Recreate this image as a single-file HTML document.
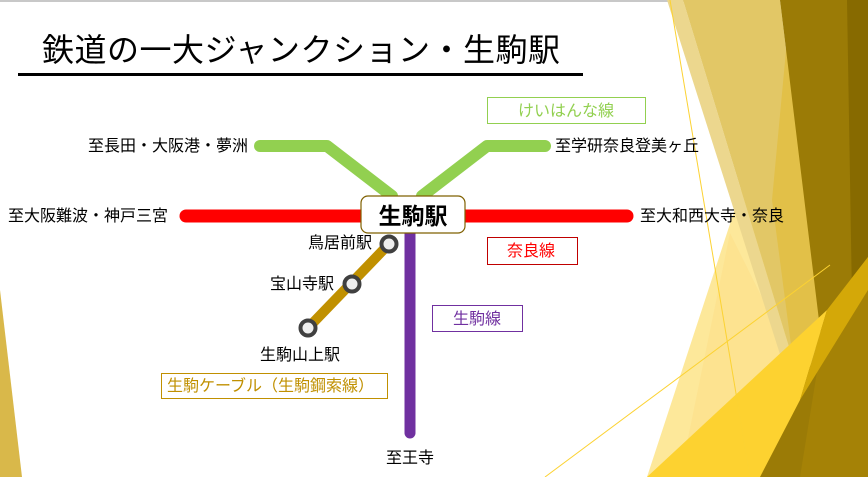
<!DOCTYPE html>
<html><head><meta charset="utf-8"><style>
body{margin:0;width:868px;height:477px;overflow:hidden;background:#fff}
svg{display:block}
text{font-family:"Liberation Sans","Noto Sans CJK JP",sans-serif}
</style></head><body>
<svg width="868" height="477" viewBox="0 0 868 477">
<rect x="0" y="0" width="868" height="2" fill="#c8c8c8"/>
<polygon points="0,290 22,477 0,477" fill="#d9b84a"/>
<polygon points="787,50 647,477 760,477 822,345" fill="#fde89a"/>
<polygon points="730,233 793,360 700,477 680,477" fill="#fde08a" opacity="0.6"/>
<polygon points="667,0 683,0 793,360 785,370" fill="#ecd78e"/>
<polygon points="683,0 780,0 822,345 793,360" fill="#e2c766"/>
<polygon points="787,40 810,230 822,345 793,360 772,200" fill="#e2c048"/>
<polygon points="780,0 868,0 868,477 747,477 822,345" fill="#9b7b06"/>
<polygon points="847,0 868,0 868,477 855,477" fill="#876a00"/>
<polygon points="868,257 868,477 800,477 827,310" fill="#a58206"/>
<polygon points="647,477 827,310 800,400 760,477" fill="#fdd230"/>
<polygon points="827,310 868,257 868,290 800,400" fill="#d4a808"/>
<line x1="670" y1="0" x2="750" y2="477" stroke="#fcd232" stroke-width="1"/>
<line x1="545" y1="477" x2="830" y2="265" stroke="#fcd232" stroke-width="1"/>

<text x="42" y="61" font-size="32" fill="#000" textLength="518">鉄道の一大ジャンクション・生駒駅</text>
<rect x="18" y="73" width="565" height="3" fill="#000"/>

<polyline points="260,146 327,146 392,196" fill="none" stroke="#92d050" stroke-width="12" stroke-linecap="round" stroke-linejoin="round"/>
<polyline points="422,196 487,146 545,146" fill="none" stroke="#92d050" stroke-width="12" stroke-linecap="round" stroke-linejoin="round"/>
<line x1="186" y1="216" x2="627" y2="216" stroke="#ff0000" stroke-width="13" stroke-linecap="round"/>
<line x1="410" y1="230" x2="410" y2="433" stroke="#7030a0" stroke-width="11" stroke-linecap="round"/>
<line x1="389" y1="244" x2="308" y2="328" stroke="#c09000" stroke-width="10"/>
<g fill="#eeeeee" stroke="#404040" stroke-width="4">
<circle cx="389" cy="244" r="7.5"/><circle cx="352" cy="284" r="7.5"/><circle cx="308" cy="328" r="7.5"/>
</g>
<rect x="361" y="196" width="104" height="37" rx="7" fill="#fff" stroke="#7f6000" stroke-width="1.2"/>
<text x="413" y="224" font-size="23" font-weight="bold" text-anchor="middle">生駒駅</text>

<g font-size="16" fill="#000">
<text x="248" y="151" text-anchor="end">至長田・大阪港・夢洲</text>
<text x="555" y="151">至学研奈良登美ヶ丘</text>
<text x="8" y="221">至大阪難波・神戸三宮</text>
<text x="640" y="221">至大和西大寺・奈良</text>
<text x="372" y="248" text-anchor="end">鳥居前駅</text>
<text x="334" y="289" text-anchor="end">宝山寺駅</text>
<text x="300" y="360" text-anchor="middle">生駒山上駅</text>
<text x="410" y="463" text-anchor="middle">至王寺</text>
</g>
<rect x="487.5" y="97.5" width="158" height="26" fill="#fff" stroke="#92d050"/>
<text x="518" y="116" font-size="16" fill="#92d050">けいはんな線</text>
<rect x="487.5" y="237.5" width="90" height="27" fill="#fff" stroke="#c00000"/>
<text x="507" y="256" font-size="16" fill="#ff0000">奈良線</text>
<rect x="432.5" y="305.5" width="90" height="26" fill="#fff" stroke="#7030a0"/>
<text x="453" y="324" font-size="16" fill="#7030a0">生駒線</text>
<rect x="161.5" y="373.5" width="226" height="25" fill="#fff" stroke="#c09000"/>
<text x="167" y="391" font-size="16" fill="#c09000">生駒ケーブル（生駒鋼索線）</text>
</svg>
</body></html>
